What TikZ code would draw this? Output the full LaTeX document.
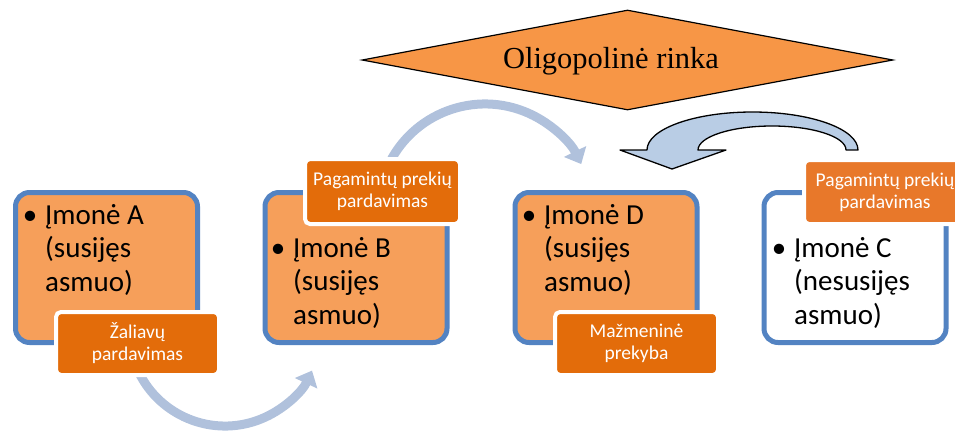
\documentclass[tikz,border=0pt]{standalone}
\usepackage{fontspec}
\setmainfont{Carlito}
\newfontfamily\timesfont{Liberation Serif}
\usetikzlibrary{arrows.meta,shapes.geometric}
\definecolor{boxfill}{HTML}{F69F5A}
\definecolor{diamfill}{HTML}{F79646}
\definecolor{labfill}{HTML}{E36C0A}
\definecolor{labfillc}{HTML}{E8782A}
\definecolor{firmblue}{HTML}{5383C2}
\definecolor{arcblue}{HTML}{B0C1DC}
\definecolor{ublue}{HTML}{B9CDE5}
\begin{document}
\begin{tikzpicture}[x=1pt,y=1pt,
  firm/.style={draw=firmblue, line width=5pt, rounded corners=14pt,
    minimum width=182pt, minimum height=150pt, inner sep=0pt},
  firmtext/.style={anchor=base west, inner sep=0pt, font=\fontsize{29}{33.5}\selectfont},
  lab/.style={draw=white, line width=4pt, fill=labfill, rounded corners=5pt,
    text=white, align=center, font=\fontsize{19.5}{22}\selectfont, inner sep=0pt},
  thinarrow/.style={draw=arcblue, line width=9pt, -{Triangle[width=24pt,length=14pt]}},
  uarrow/.style={draw=black, line width=1.3pt, fill=ublue, line join=round},
]
\useasboundingbox (0,0) rectangle (955,-431);
\clip (0,0) rectangle (955,-431);

% market diamond
\node[diamond, draw=black, line width=1.2pt, fill=diamfill, minimum width=531pt,
  minimum height=100pt, inner sep=0pt, aspect=5.31] (mkt) at (627.5,-60) {};
\node[anchor=base, inner sep=0pt, font=\timesfont\fontsize{30.5}{36}\selectfont] (mkttext) at (611,-68) {Oligopolinė rinka};

% thin curved arrows
\coordinate (arcAstart) at (138,-370.6);
\draw[thinarrow] (arcAstart) arc[start angle=205, end angle=335, radius=96pt];
\coordinate (arcBstart) at (389.7,-162.4);
\draw[thinarrow] (arcBstart) arc[start angle=153, end angle=26, radius=107pt];

% U-turn block arrow
\coordinate (uwl) at (620,-150);
\draw[uarrow] (uwl) -- (647,-150)
  arc[start angle=180, end angle=0, x radius=105.5pt, y radius=38pt]
  -- (846,-150)
  arc[start angle=0, end angle=180, x radius=74pt, y radius=24pt]
  -- (726,-150) -- (672,-169) -- cycle;

% firm boxes
\node[firm, fill=boxfill] (A) at (106.5,-267.5) {};
\node[firm, fill=boxfill] (B) at (356,-267.5) {};
\node[firm, fill=boxfill] (D) at (606,-267.5) {};
\node[firm, fill=white] (C) at (855,-267.5) {};

\node[firmtext] (tA) at (45,-224) {\parbox[t]{150pt}{\raggedright\leavevmode\llap{•\hspace{8pt}}Įmonė A\\(susijęs\\asmuo)}};
\node[firmtext] (tB) at (293,-257) {\parbox[t]{150pt}{\raggedright\leavevmode\llap{•\hspace{8pt}}Įmonė B\\(susijęs\\asmuo)}};
\node[firmtext] (tD) at (544,-224) {\parbox[t]{150pt}{\raggedright\leavevmode\llap{•\hspace{8pt}}Įmonė D\\(susijęs\\asmuo)}};
\node[firmtext] (tC) at (794,-257) {\parbox[t]{150pt}{\raggedright\leavevmode\llap{•\hspace{8pt}}Įmonė C\\(nesusijęs\\asmuo)}};

% labels
\node[lab, minimum width=163pt, minimum height=63pt] (lA) at (137.5,-343.5) {Žaliavų\\pardavimas};
\node[lab, minimum width=155pt, minimum height=65pt] (lB) at (382.5,-191.5) {Pagamintų prekių\\pardavimas};
\node[lab, minimum width=163pt, minimum height=63pt] (lD) at (636.5,-343.5) {Mažmeninė\\prekyba};
\node[lab, fill=labfillc, minimum width=162pt, minimum height=64pt] (lC) at (885,-192) {Pagamintų prekių\\pardavimas};
\end{tikzpicture}
\end{document}
